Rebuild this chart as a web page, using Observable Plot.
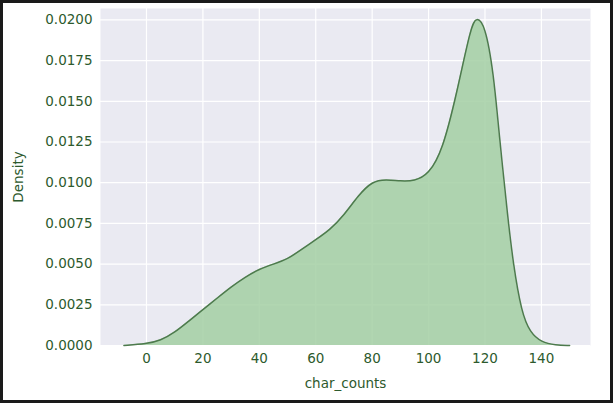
<!DOCTYPE html>
<html><head>
<script src="https://cdn.jsdelivr.net/npm/d3@7"></script>
<script src="https://cdn.jsdelivr.net/npm/@observablehq/plot@0.6"></script>
<style>
html,body{margin:0;padding:0;background:#1a1a1a;}
#wrap{position:absolute;left:3px;top:3px;width:607px;height:397px;background:#fff;overflow:hidden;}
</style></head><body><div id="wrap"></div>
<script>
const xs = [-8,0,5,10,15,20,25,30,35,40,45,50,55,60,65,70,75,80,85,90,95,100,105,110,115,117,120,123,125,128,130,133,136,140,145,150];
const ys = [0,0.0001,0.0003,0.0008,0.0015,0.0022,0.0029,0.0036,0.0042,0.0047,0.0050,0.0053,0.0059,0.0065,0.0071,0.0080,0.0092,0.0101,0.0102,0.0101,0.0101,0.0105,0.0120,0.0155,0.0196,0.0202,0.0197,0.0168,0.0130,0.0080,0.0050,0.0020,0.0008,0.0002,0.00002,0];
const xTicks = [0,20,40,60,80,100,120,140];
const yTicks = [0,0.0025,0.005,0.0075,0.01,0.0125,0.015,0.0175,0.02];
const data = xs.map((x,i)=>({x, y: ys[i]}));
const txt = "#2d5a2d";
const chart = Plot.plot({
  width: 607, height: 397,
  marginLeft: 97, marginRight: 20, marginTop: 5, marginBottom: 55,
  style: {fontFamily: "DejaVu Sans", fontSize: "13.5px", color: txt, background: "#fff"},
  x: {domain: [-16.3, 157.4]},
  y: {domain: [0, 0.0207]},
  marks: [
    Plot.frame({fill: "#eaeaf2", stroke: null}),
    Plot.gridX(xTicks, {stroke: "#fff", strokeOpacity: 1, strokeWidth: 1.2}),
    Plot.gridY(yTicks, {stroke: "#fff", strokeOpacity: 1, strokeWidth: 1.2}),
    Plot.areaY(data, {x: "x", y: "y", fill: "#a3cfa3", fillOpacity: 0.85, curve: "basis"}),
    Plot.lineY(data, {x: "x", y: "y", stroke: "#4d7a4d", strokeWidth: 1.5, curve: "basis"}),
    Plot.axisX({ticks: xTicks, tickSize: 0, tickPadding: 8, label: "char_counts", labelAnchor: "center", labelArrow: "none", labelOffset: 42, fill: txt}),
    Plot.axisY({ticks: yTicks, tickSize: 0, tickPadding: 8, tickFormat: d3.format(".4f"), label: "Density", labelAnchor: "center", labelArrow: "none", labelOffset: 87, fill: txt})
  ]
});
document.getElementById("wrap").appendChild(chart);
</script></body></html>
